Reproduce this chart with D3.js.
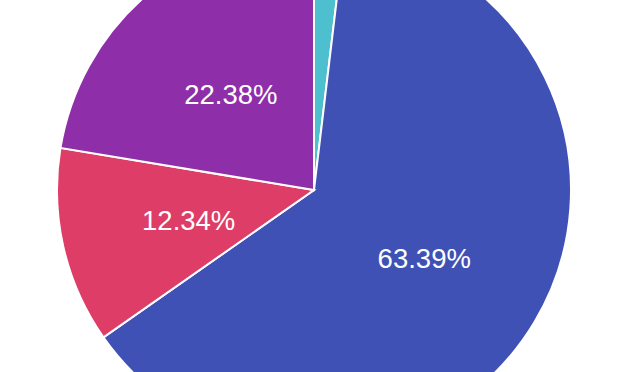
<!DOCTYPE html>
<html>
<head>
<meta charset="utf-8">
<script src="https://cdn.jsdelivr.net/npm/d3@7"></script>
<style>
  html, body { margin: 0; padding: 0; background: #fff; overflow: hidden; }
  svg { display: block; }
  .label { font-family: "Liberation Sans", Arial, sans-serif; font-size: 27.5px; fill: #fff; }
</style>
</head>
<body>
<script>
var names = ["Teal", "Blue", "Red", "Purple"];
var values = [1.89, 63.39, 12.34, 22.38];
var colors = ["#4dbfcf", "#3f51b5", "#dd3d66", "#8e2fa9"];

var width = 630, height = 372;
var cx = 314, cy = 190, radius = 257;

var data = names.map(function (n, i) { return { name: n, value: values[i], color: colors[i] }; });

var svg = d3.select("body").append("svg")
  .attr("width", width)
  .attr("height", height);

var g = svg.append("g").attr("transform", "translate(" + cx + "," + cy + ")");

var pie = d3.pie().sort(null).value(function (d) { return d.value; });
var arc = d3.arc().innerRadius(0).outerRadius(radius);
var arcs = pie(data);

g.selectAll("path")
  .data(arcs)
  .enter()
  .append("path")
  .attr("d", arc)
  .attr("fill", function (d) { return d.data.color; })
  .attr("stroke", "#fff")
  .attr("stroke-width", 2);

g.selectAll("text")
  .data(arcs.filter(function (d) { return d.data.value > 5; }))
  .enter()
  .append("text")
  .attr("class", "label")
  .attr("transform", function (d) { return "translate(" + arc.centroid(d) + ")"; })
  .attr("dy", "0.42em")
  .style("text-anchor", "middle")
  .text(function (d) { return d.data.value.toFixed(2) + "%"; });
</script>
</body>
</html>
